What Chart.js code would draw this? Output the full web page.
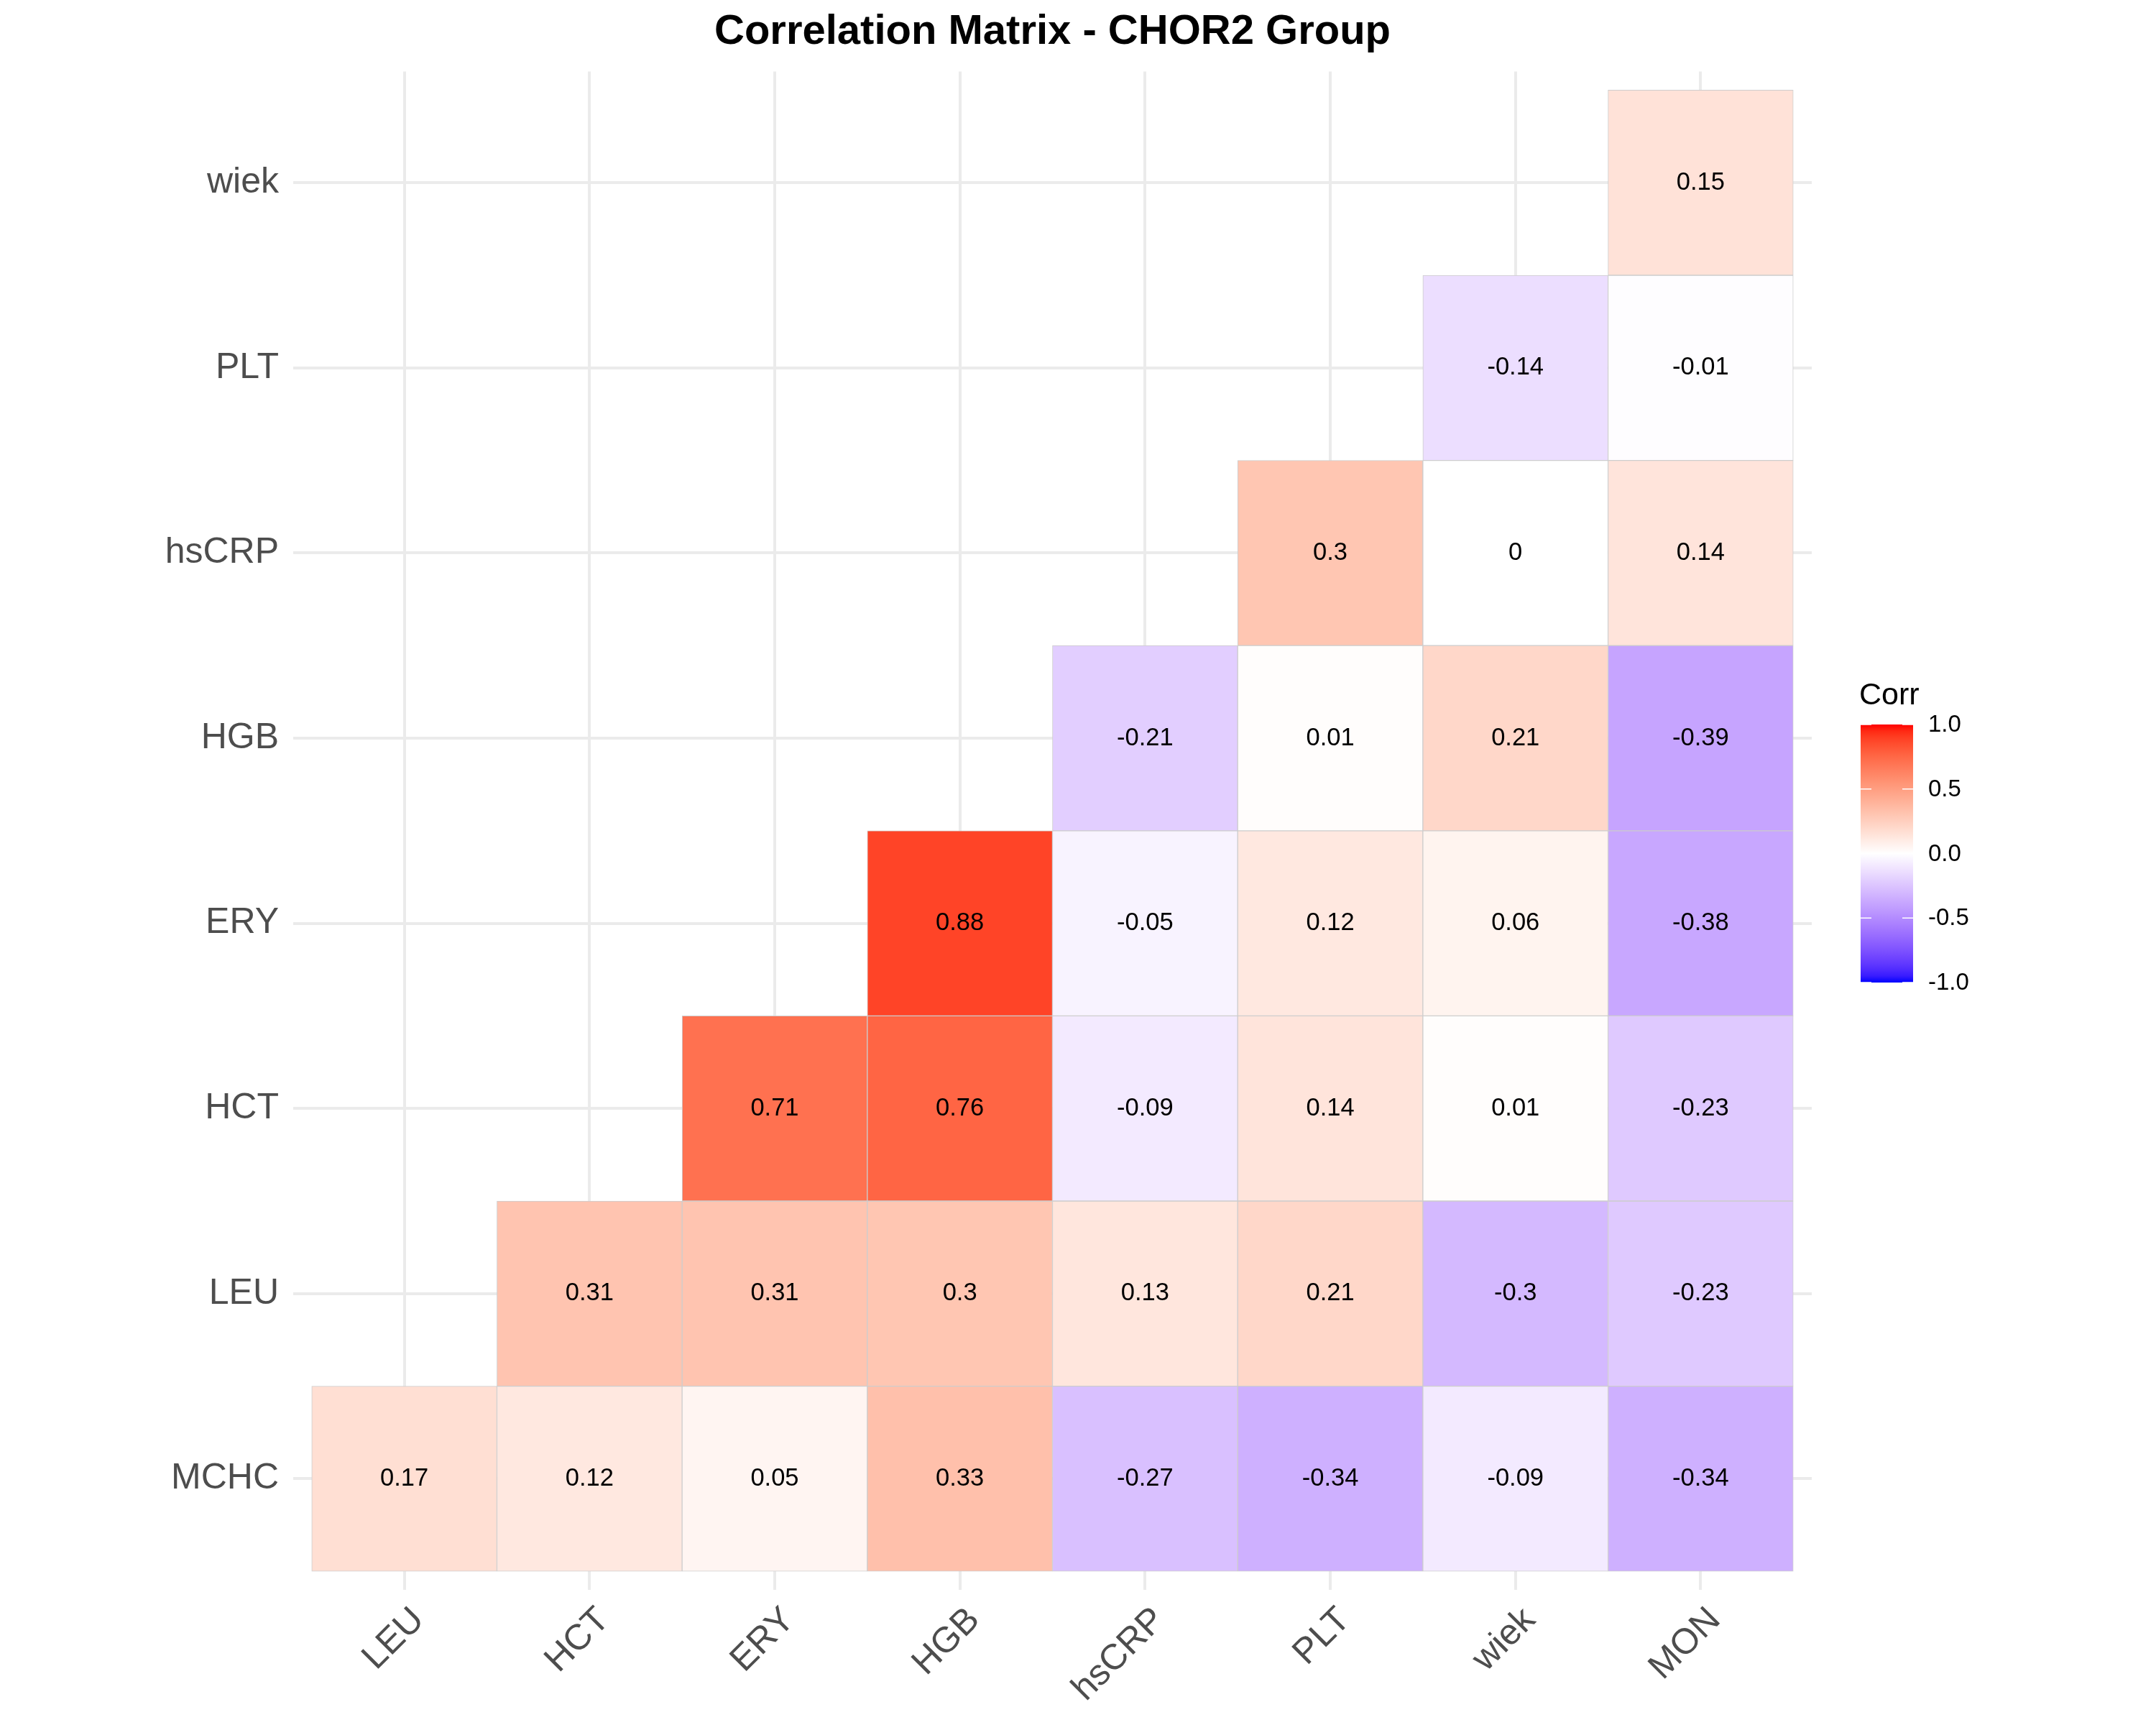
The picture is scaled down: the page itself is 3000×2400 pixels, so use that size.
<!DOCTYPE html>
<html>
<head>
<meta charset="utf-8">
<script src="https://cdn.jsdelivr.net/npm/chart.js@4/dist/chart.umd.min.js"></script>
<style>
  html, body { margin: 0; padding: 0; background: #ffffff; }
  #c { display: block; }
</style>
</head>
<body>
<canvas id="c" width="3000" height="2400"></canvas>
<script>
// ---------- data ----------
const chartTitle = 'Correlation Matrix - CHOR2 Group';
const legendTitle = 'Corr';
const xLabels = ['LEU', 'HCT', 'ERY', 'HGB', 'hsCRP', 'PLT', 'wiek', 'MON'];
const yLabels = ['MCHC', 'LEU', 'HCT', 'ERY', 'HGB', 'hsCRP', 'PLT', 'wiek']; // bottom to top
const rowMCHC  = [0.17, 0.12, 0.05, 0.33, -0.27, -0.34, -0.09, -0.34];
const rowLEU   = [null, 0.31, 0.31, 0.30, 0.13, 0.21, -0.30, -0.23];
const rowHCT   = [null, null, 0.71, 0.76, -0.09, 0.14, 0.01, -0.23];
const rowERY   = [null, null, null, 0.88, -0.05, 0.12, 0.06, -0.38];
const rowHGB   = [null, null, null, null, -0.21, 0.01, 0.21, -0.39];
const rowHsCRP = [null, null, null, null, null, 0.30, 0.00, 0.14];
const rowPLT   = [null, null, null, null, null, null, -0.14, -0.01];
const rowWiek  = [null, null, null, null, null, null, null, 0.15];
const rows = [rowMCHC, rowLEU, rowHCT, rowERY, rowHGB, rowHsCRP, rowPLT, rowWiek];
const legendTicks = [-1.0, -0.5, 0.0, 0.5, 1.0];

// ---------- colour scale (Lab interpolation, like ggplot2 scale_fill_gradient2) ----------
function toLin(c) { c /= 255; return c <= 0.04045 ? c / 12.92 : Math.pow((c + 0.055) / 1.055, 2.4); }
function fromLin(c) { c = c <= 0.0031308 ? 12.92 * c : 1.055 * Math.pow(c, 1 / 2.4) - 0.055; return Math.round(Math.max(0, Math.min(1, c)) * 255); }
const WP = [0.95047, 1.0, 1.08883];
function rgb2lab(rgb) {
  const r = toLin(rgb[0]), g = toLin(rgb[1]), b = toLin(rgb[2]);
  const X = (0.4124564 * r + 0.3575761 * g + 0.1804375 * b) / WP[0];
  const Y = (0.2126729 * r + 0.7151522 * g + 0.0721750 * b) / WP[1];
  const Z = (0.0193339 * r + 0.1191920 * g + 0.9503041 * b) / WP[2];
  const f = t => t > 216 / 24389 ? Math.cbrt(t) : (24389 / 27 * t + 16) / 116;
  const fx = f(X), fy = f(Y), fz = f(Z);
  return [116 * fy - 16, 500 * (fx - fy), 200 * (fy - fz)];
}
function lab2rgb(lab) {
  const fy = (lab[0] + 16) / 116, fx = fy + lab[1] / 500, fz = fy - lab[2] / 200;
  const inv = t => t * t * t > 216 / 24389 ? t * t * t : (116 * t - 16) / (24389 / 27);
  const X = inv(fx) * WP[0], Y = inv(fy) * WP[1], Z = inv(fz) * WP[2];
  const r = 3.2404542 * X - 1.5371385 * Y - 0.4985314 * Z;
  const g = -0.9692660 * X + 1.8760108 * Y + 0.0415560 * Z;
  const b = 0.0556434 * X - 0.2040259 * Y + 1.0572252 * Z;
  return [fromLin(r), fromLin(g), fromLin(b)];
}
const LAB_LOW = rgb2lab([0, 0, 255]);
const LAB_MID = rgb2lab([255, 255, 255]);
const LAB_HIGH = rgb2lab([255, 0, 0]);
function fillColor(v) {
  const t = Math.min(1, Math.abs(v));
  const end = v >= 0 ? LAB_HIGH : LAB_LOW;
  const lab = [0, 1, 2].map(k => LAB_MID[k] + (end[k] - LAB_MID[k]) * t);
  const c = lab2rgb(lab);
  return 'rgb(' + c[0] + ',' + c[1] + ',' + c[2] + ')';
}

// ---------- build tile data ----------
const tiles = [];
rows.forEach((row, ri) => {
  row.forEach((v, ci) => {
    if (v !== null) tiles.push({ x: ci + 1, y: [ri + 0.5, ri + 1.5], v: v });
  });
});

const FONT = "'Liberation Sans', Arial, Helvetica, sans-serif";

// ---------- plugins ----------
const whiteBg = {
  id: 'whiteBg',
  beforeDraw(chart) {
    const ctx = chart.ctx;
    ctx.save();
    ctx.fillStyle = '#ffffff';
    ctx.fillRect(0, 0, chart.width, chart.height);
    ctx.restore();
  }
};

const cellLabels = {
  id: 'cellLabels',
  afterDatasetsDraw(chart) {
    const ctx = chart.ctx;
    const xs = chart.scales.x, ys = chart.scales.y;
    ctx.save();
    ctx.fillStyle = '#000000';
    ctx.font = '34.5px ' + FONT;
    ctx.textAlign = 'center';
    ctx.textBaseline = 'middle';
    tiles.forEach(t => {
      const px = xs.getPixelForValue(t.x);
      const py = ys.getPixelForValue((t.y[0] + t.y[1]) / 2);
      ctx.fillText(String(Math.round(t.v * 100) / 100), px, py);
    });
    ctx.restore();
  }
};

const colorBar = {
  id: 'colorBar',
  afterDraw(chart) {
    const ctx = chart.ctx;
    const area = chart.chartArea;
    const barL = area.right + 68, barW = 73;
    const barT = 1008, barH = 359;
    const valToY = v => barT + (1 - v) / 2 * barH;
    ctx.save();
    // title
    ctx.fillStyle = '#000000';
    ctx.font = '43px ' + FONT;
    ctx.textAlign = 'left';
    ctx.textBaseline = 'alphabetic';
    ctx.fillText(legendTitle, barL - 2, 980);
    // gradient
    const grad = ctx.createLinearGradient(0, barT, 0, barT + barH);
    for (let i = 0; i <= 40; i++) {
      const v = 1 - i / 20;
      grad.addColorStop(i / 40, fillColor(v));
    }
    ctx.fillStyle = grad;
    ctx.fillRect(barL, barT, barW, barH);
    // ticks
    ctx.strokeStyle = '#ffffff';
    ctx.lineWidth = 1.5;
    legendTicks.forEach(v => {
      const y = valToY(v);
      ctx.beginPath();
      ctx.moveTo(barL, y); ctx.lineTo(barL + 15, y);
      ctx.moveTo(barL + barW - 15, y); ctx.lineTo(barL + barW, y);
      ctx.stroke();
    });
    // labels
    ctx.fillStyle = '#000000';
    ctx.font = '33px ' + FONT;
    ctx.textBaseline = 'middle';
    legendTicks.forEach(v => {
      ctx.fillText(v.toFixed(1), barL + barW + 21, valToY(v) + 1);
    });
    ctx.restore();
  }
};

// ---------- chart ----------
new Chart(document.getElementById('c'), {
  type: 'bar',
  data: {
    datasets: [{
      data: tiles,
      backgroundColor: ctx => fillColor(ctx.raw ? ctx.raw.v : 0),
      borderColor: '#cdcdcd',
      borderWidth: 1,
      borderSkipped: false,
      barPercentage: 1.0,
      categoryPercentage: 1.0
    }]
  },
  options: {
    responsive: false,
    animation: false,
    devicePixelRatio: 1,
    events: [],
    layout: { padding: { left: 0, right: 479, top: 0, bottom: 0 } },
    plugins: {
      legend: { display: false },
      tooltip: { enabled: false },
      title: {
        display: true,
        text: chartTitle,
        fullSize: false,
        color: '#000000',
        font: { family: FONT, size: 58, weight: 'bold', lineHeight: 1.2 },
        padding: { top: 10.2, bottom: 19.8 }
      }
    },
    scales: {
      x: {
        type: 'linear',
        position: 'bottom',
        min: 0.4,
        max: 8.6,
        offset: false,
        grid: { color: '#EBEBEB', lineWidth: 4, drawTicks: false, offset: false },
        border: { display: false },
        ticks: {
          stepSize: 1,
          includeBounds: false,
          autoSkip: false,
          minRotation: 45,
          maxRotation: 45,
          labelOffset: 20,
          padding: 13,
          color: '#4D4D4D',
          font: { family: FONT, size: 50 },
          callback: v => xLabels[Math.round(v) - 1]
        },
        afterFit: s => { s.height = 188; }
      },
      y: {
        type: 'linear',
        position: 'left',
        min: 0.4,
        max: 8.6,
        offset: false,
        grid: { color: '#EBEBEB', lineWidth: 4, drawTicks: false, offset: false },
        border: { display: false },
        ticks: {
          stepSize: 1,
          includeBounds: false,
          autoSkip: false,
          padding: 20,
          color: '#4D4D4D',
          font: { family: FONT, size: 50 },
          callback: v => yLabels[Math.round(v) - 1]
        },
        afterFit: s => { s.width = 408; }
      }
    }
  },
  plugins: [whiteBg, cellLabels, colorBar]
});
</script>
</body>
</html>
